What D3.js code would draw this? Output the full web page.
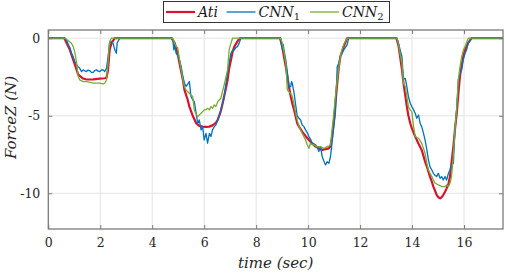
<!DOCTYPE html>
<html lang="en">
<head>
  <meta charset="UTF-8" />
  <title>ForceZ comparison</title>
  <style>
    body { margin: 0; background: #fff; }
    svg { display: block; }
    .grid line { stroke: #e3e3e3; stroke-width: 1; }
    .tick text { fill: #262626; }
  </style>
</head>
<body>
  <svg id="chart"></svg>
  <script src="https://d3js.org/d3.v7.min.js"></script>
  <script>
    // series as [time (sec), force (N)] pairs
    const ati = [
      [0,0],[0.62,0],[0.70,-0.3],[0.83,-0.75],[0.96,-1.4],[1.09,-2.04],[1.15,-2.35],[1.34,-2.6],[1.47,-2.66],[1.73,-2.65],[1.98,-2.6],[2.17,-2.58],[2.24,-2.55],[2.30,-2.04],[2.36,-0.75],[2.43,-0.32],[2.56,0],
      [4.75,0],[4.86,-0.3],[4.98,-1.0],[5.05,-1.61],[5.18,-2.7],[5.24,-3.33],[5.37,-4.0],[5.43,-4.41],[5.56,-5.0],[5.69,-5.48],[5.81,-5.65],[5.94,-5.7],[6.07,-5.72],[6.20,-5.7],[6.32,-5.62],[6.45,-5.45],[6.52,-5.27],[6.64,-4.7],[6.71,-4.19],[6.84,-3.2],[6.90,-2.69],[6.96,-1.95],[7.03,-1.4],[7.09,-0.9],[7.16,-0.54],[7.28,-0.2],[7.38,0],
      [8.92,0],[9.01,-0.6],[9.07,-1.18],[9.14,-1.85],[9.20,-2.47],[9.26,-3.1],[9.33,-3.76],[9.39,-4.2],[9.46,-4.62],[9.52,-5.05],[9.58,-5.48],[9.65,-5.7],[9.77,-6.02],[9.90,-6.3],[10.03,-6.56],[10.16,-6.8],[10.29,-6.99],[10.41,-7.1],[10.54,-7.2],[10.67,-7.15],[10.80,-7.1],[10.86,-6.95],[10.92,-6.4],[10.99,-5.48],[11.05,-4.2],[11.12,-2.9],[11.18,-1.9],[11.24,-1.18],[11.37,-0.54],[11.50,0],
      [13.40,0],[13.48,-0.5],[13.54,-1.18],[13.61,-2.0],[13.67,-2.9],[13.74,-3.7],[13.80,-4.41],[13.86,-5.0],[13.93,-5.48],[13.99,-5.8],[14.12,-6.34],[14.25,-6.8],[14.37,-7.2],[14.44,-7.6],[14.50,-7.95],[14.57,-8.28],[14.63,-8.6],[14.69,-8.92],[14.76,-9.25],[14.82,-9.57],[14.89,-9.85],[14.95,-10.11],[15.01,-10.25],[15.08,-10.32],[15.14,-10.25],[15.20,-10.11],[15.27,-9.9],[15.33,-9.68],[15.40,-9.4],[15.46,-8.92],[15.52,-8.0],[15.59,-6.99],[15.65,-5.9],[15.72,-4.84],[15.78,-3.6],[15.84,-2.5],[15.91,-1.7],[15.97,-1.18],[16.04,-0.75],[16.16,-0.3],[16.29,0],[17.5,0]
    ];

    const cnn1 = [
      [0,0],[0.64,0],[0.70,-0.1],[0.77,-0.4],[0.83,-0.6],[0.89,-0.97],[0.96,-1.2],[1.02,-1.5],[1.09,-1.7],[1.15,-1.83],[1.21,-1.94],[1.28,-2.15],[1.34,-2.04],[1.40,-2.1],[1.47,-2.15],[1.53,-2.05],[1.60,-2.1],[1.66,-2.2],[1.73,-2.2],[1.79,-2.08],[1.85,-2.04],[1.92,-2.12],[1.98,-2.15],[2.05,-2.05],[2.11,-2.04],[2.17,-2.15],[2.24,-1.94],[2.30,-1.18],[2.36,-0.32],[2.43,-0.2],[2.49,-0.32],[2.56,-0.75],[2.62,-0.97],[2.65,-0.3],[2.75,0],
      [4.73,0],[4.79,-0.1],[4.83,-0.75],[4.86,-0.4],[4.92,-0.97],[4.98,-1.1],[5.05,-1.4],[5.11,-1.8],[5.18,-2.47],[5.24,-2.9],[5.30,-3.1],[5.37,-2.95],[5.43,-2.8],[5.49,-3.76],[5.56,-3.98],[5.62,-4.09],[5.69,-4.84],[5.75,-5.48],[5.81,-5.27],[5.88,-5.91],[5.94,-5.7],[6.00,-6.56],[6.07,-6.13],[6.13,-6.77],[6.20,-6.13],[6.26,-6.34],[6.32,-5.91],[6.39,-5.7],[6.45,-5.6],[6.52,-5.27],[6.58,-5.0],[6.64,-4.62],[6.71,-4.2],[6.77,-3.76],[6.84,-2.9],[6.90,-2.2],[6.96,-1.61],[7.03,-0.97],[7.09,-0.8],[7.16,-0.75],[7.22,-0.6],[7.28,-0.54],[7.35,-0.3],[7.41,0],
      [8.94,0],[9.01,-0.75],[9.04,-0.4],[9.07,-0.75],[9.14,-1.4],[9.20,-2.2],[9.26,-3.12],[9.33,-3.12],[9.36,-2.8],[9.39,-2.9],[9.46,-3.55],[9.52,-4.3],[9.58,-5.0],[9.65,-5.16],[9.71,-5.27],[9.77,-5.59],[9.84,-5.7],[9.90,-5.91],[9.97,-6.1],[10.03,-6.34],[10.09,-6.5],[10.16,-6.77],[10.22,-6.8],[10.29,-6.88],[10.35,-7.0],[10.41,-7.31],[10.48,-6.99],[10.54,-7.63],[10.60,-7.9],[10.67,-8.17],[10.73,-7.96],[10.80,-8.06],[10.86,-7.63],[10.92,-6.77],[10.99,-5.5],[11.05,-4.84],[11.12,-1.83],[11.18,-1.61],[11.24,-1.18],[11.30,-1.0],[11.37,-0.75],[11.43,-0.6],[11.50,-0.43],[11.56,0],
      [13.42,0],[13.48,-0.32],[13.54,-0.75],[13.61,-1.18],[13.67,-2.69],[13.71,-2.58],[13.74,-2.6],[13.80,-3.12],[13.86,-3.76],[13.93,-4.19],[13.99,-4.41],[14.06,-4.62],[14.12,-4.84],[14.18,-5.16],[14.25,-4.95],[14.31,-5.48],[14.37,-5.7],[14.44,-6.13],[14.50,-6.56],[14.57,-7.2],[14.63,-7.85],[14.69,-8.28],[14.76,-8.5],[14.82,-8.71],[14.89,-8.85],[14.95,-8.92],[15.01,-8.71],[15.08,-9.03],[15.14,-8.92],[15.20,-9.14],[15.27,-8.92],[15.33,-9.14],[15.40,-8.71],[15.46,-8.5],[15.52,-8.17],[15.59,-8.06],[15.65,-5.91],[15.72,-4.5],[15.78,-2.69],[15.84,-2.3],[15.91,-2.04],[15.97,-1.4],[16.04,-0.97],[16.10,-0.75],[16.16,-0.32],[16.29,0],[17.5,0]
    ];

    const cnn2 = [
      [0,0],[0.64,0],[0.72,-0.1],[0.80,-0.2],[0.89,-0.32],[0.96,-0.54],[1.02,-0.9],[1.09,-1.61],[1.15,-2.47],[1.21,-2.69],[1.34,-2.8],[1.47,-2.8],[1.60,-2.85],[1.73,-2.9],[1.85,-2.9],[1.98,-2.9],[2.11,-2.95],[2.17,-2.9],[2.24,-2.69],[2.30,-1.61],[2.34,-0.54],[2.36,-0.2],[2.43,0],
      [4.79,0],[4.86,-0.32],[4.92,-0.54],[4.98,-0.6],[5.05,-1.4],[5.11,-2.0],[5.18,-2.69],[5.24,-3.12],[5.30,-3.33],[5.37,-3.45],[5.43,-3.55],[5.49,-3.66],[5.56,-3.76],[5.62,-4.62],[5.69,-4.9],[5.75,-5.05],[5.81,-4.95],[5.88,-4.84],[5.94,-4.73],[6.00,-4.62],[6.07,-4.62],[6.13,-4.52],[6.20,-4.62],[6.26,-4.41],[6.32,-4.52],[6.39,-4.3],[6.45,-4.41],[6.52,-4.09],[6.58,-3.98],[6.64,-3.87],[6.71,-3.4],[6.77,-3.0],[6.84,-2.47],[6.90,-2.04],[6.96,-0.75],[7.03,-0.32],[7.09,0],
      [8.94,0],[9.01,-0.32],[9.07,-0.9],[9.14,-1.61],[9.20,-3.33],[9.26,-3.45],[9.33,-3.55],[9.39,-3.76],[9.46,-4.3],[9.52,-4.84],[9.58,-5.27],[9.65,-5.7],[9.71,-5.9],[9.77,-6.13],[9.84,-6.35],[9.90,-6.56],[9.97,-6.88],[10.03,-7.1],[10.09,-6.77],[10.16,-6.85],[10.22,-6.88],[10.29,-6.95],[10.35,-6.99],[10.41,-6.99],[10.48,-6.99],[10.54,-7.05],[10.60,-7.1],[10.67,-7.05],[10.73,-6.99],[10.80,-6.95],[10.86,-6.88],[10.92,-5.91],[10.99,-4.8],[11.05,-3.76],[11.12,-2.69],[11.18,-1.9],[11.24,-1.18],[11.30,-0.75],[11.37,-0.4],[11.50,0],
      [13.42,0],[13.48,-0.4],[13.54,-1.0],[13.61,-1.61],[13.67,-2.9],[13.74,-3.12],[13.80,-3.76],[13.86,-4.41],[13.93,-4.62],[13.99,-4.73],[14.06,-5.7],[14.12,-6.34],[14.18,-6.4],[14.25,-6.45],[14.31,-6.6],[14.37,-6.77],[14.44,-7.1],[14.50,-7.42],[14.57,-8.06],[14.63,-8.5],[14.69,-8.71],[14.76,-8.92],[14.82,-9.14],[14.89,-9.35],[14.95,-9.4],[15.01,-9.46],[15.08,-9.5],[15.14,-9.57],[15.20,-9.57],[15.27,-9.57],[15.33,-9.46],[15.40,-9.57],[15.46,-9.35],[15.52,-8.92],[15.59,-7.5],[15.65,-5.91],[15.72,-4.5],[15.78,-2.69],[15.84,-1.9],[15.91,-1.18],[15.97,-0.8],[16.04,-0.54],[16.16,0],[17.5,0]
    ];

    const xTicks = [0, 2, 4, 6, 8, 10, 12, 14, 16];
    const yTicks = [0, -5, -10];

    const series = [
      { name: "Ati", sub: "", data: ati, color: "#d6142e", width: 2.2 },
      { name: "CNN", sub: "1", data: cnn1, color: "#0072bd", width: 1.3 },
      { name: "CNN", sub: "2", data: cnn2, color: "#77ac30", width: 1.3 }
    ];

    const FONT = "DejaVu Serif";

    const W = 505, H = 274;
    const margin = { top: 30, right: 2, bottom: 45, left: 48.3 };
    const width = W - margin.left - margin.right;
    const height = H - margin.top - margin.bottom;

    const svg = d3.select("#chart").attr("width", W).attr("height", H)
      .attr("font-family", FONT);
    const g = svg.append("g").attr("transform", `translate(${margin.left},${margin.top})`);

    const x = d3.scaleLinear().domain([0, 17.5]).range([0, width]);
    const y = d3.scaleLinear().domain([-12.3, 0.53]).range([height, 0]);

    // grid
    g.append("g").attr("class", "grid")
      .selectAll("line").data(xTicks.slice(1)).join("line")
      .attr("x1", d => x(d)).attr("x2", d => x(d)).attr("y1", 0).attr("y2", height);
    g.append("g").attr("class", "grid")
      .selectAll("line").data(yTicks).join("line")
      .attr("x1", 0).attr("x2", width).attr("y1", d => y(d)).attr("y2", d => y(d));

    // lines
    const line = d3.line().x(d => x(d[0])).y(d => y(d[1]));
    series.forEach(s => {
      g.append("path")
        .datum(s.data)
        .attr("fill", "none")
        .attr("stroke", s.color)
        .attr("stroke-width", s.width)
        .attr("stroke-linejoin", "round")
        .attr("d", line);
    });

    // axes, matlab-like box with inward ticks
    const axColor = "#7a7a7a";
    const styleAxis = sel => {
      sel.attr("font-family", FONT).attr("font-size", 12.5);
      sel.select(".domain").remove();
      sel.selectAll(".tick line").attr("stroke", axColor);
    };
    g.append("g").attr("transform", `translate(0,${height})`)
      .call(d3.axisBottom(x).tickValues(xTicks).tickSizeInner(-4).tickSizeOuter(0).tickPadding(9).tickFormat(d3.format("d")))
      .call(styleAxis);
    g.append("g")
      .call(d3.axisTop(x).tickValues(xTicks).tickSizeInner(-4).tickSizeOuter(0).tickFormat(""))
      .call(styleAxis);
    g.append("g")
      .call(d3.axisLeft(y).tickValues(yTicks).tickSizeInner(-4).tickSizeOuter(0).tickPadding(8).tickFormat(d => d < 0 ? "-" + Math.abs(d) : d))
      .call(styleAxis);
    g.append("g").attr("transform", `translate(${width},0)`)
      .call(d3.axisRight(y).tickValues(yTicks).tickSizeInner(-4).tickSizeOuter(0).tickFormat(""))
      .call(styleAxis);

    g.append("rect")
      .attr("width", width).attr("height", height)
      .attr("fill", "none").attr("stroke", axColor).attr("stroke-width", 1.3);

    // axis labels
    svg.append("text")
      .attr("x", margin.left + width / 2).attr("y", 268)
      .attr("text-anchor", "middle")
      .attr("font-style", "italic").attr("font-size", 15).attr("fill", "#262626")
      .text("time (sec)");
    svg.append("text")
      .attr("transform", `translate(16,${margin.top + height / 2 - 12}) rotate(-90)`)
      .attr("text-anchor", "middle")
      .attr("font-style", "italic").attr("font-size", 15).attr("fill", "#262626")
      .text("ForceZ (N)");

    // legend
    const legend = svg.append("g");
    legend.append("rect")
      .attr("x", 163.5).attr("y", 1.5).attr("width", 226).attr("height", 21)
      .attr("fill", "#fff").attr("stroke", "#333").attr("stroke-width", 1);
    const legX = [166, 226.5, 310];
    series.forEach((s, i) => {
      const lx = legX[i];
      legend.append("line")
        .attr("x1", lx).attr("x2", lx + 29).attr("y1", 12).attr("y2", 12)
        .attr("stroke", s.color).attr("stroke-width", s.width);
      const t = legend.append("text")
        .attr("x", lx + 32).attr("y", 17)
        .attr("font-size", 14).attr("fill", "#1a1a1a");
      t.append("tspan").attr("font-style", "italic").text(s.name);
      if (s.sub) t.append("tspan").attr("font-size", 10).attr("dy", 3).text(s.sub);
    });
  </script>
</body>
</html>
